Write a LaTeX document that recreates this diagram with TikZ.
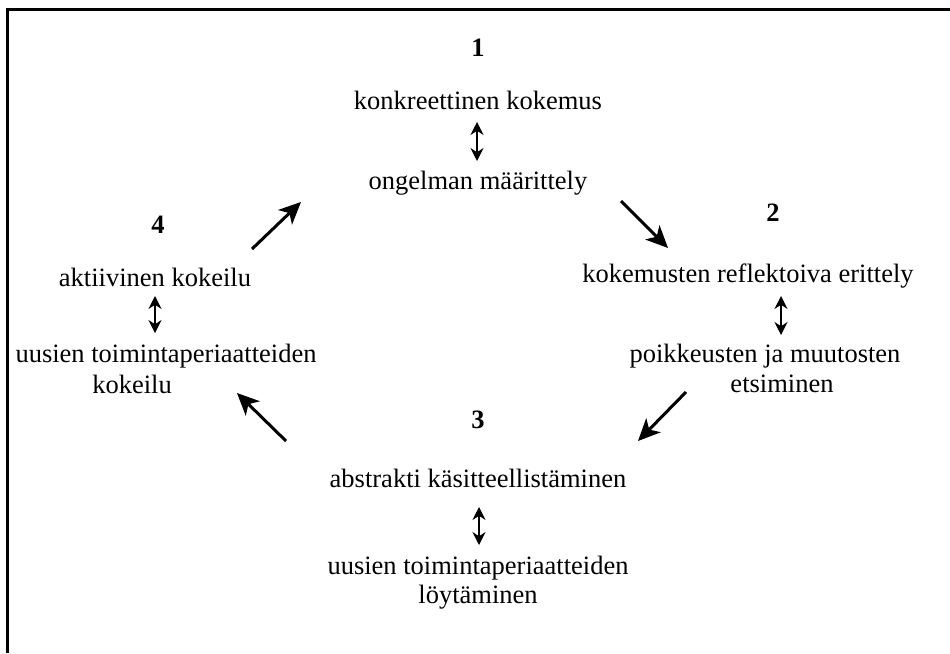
\documentclass[tikz,border=0pt]{standalone}
\usepackage{fontspec}
\setmainfont{Liberation Serif}
\usetikzlibrary{arrows.meta}
\begin{document}
\begin{tikzpicture}[x=1pt,y=-1pt,
  lbl/.style={font=\fontsize{26.5}{29}\selectfont, inner sep=0pt, align=center},
  num/.style={font=\fontsize{26.5}{29}\selectfont\bfseries, inner sep=0pt},
  bigarrow/.style={line width=3pt, -{Stealth[length=22pt,width=20pt,inset=6pt]}},
  dblarrow/.style={line width=1.2pt, {Stealth[length=13pt,width=13pt]}-{Stealth[length=13pt,width=13pt]}}]
\useasboundingbox (0,0) rectangle (950,653);
\draw[line width=3pt] (7,653) -- (7,9.5) -- (950,9.5);
% top group
\node[num] (n1) at (478,48) {1};
\node[lbl] (k1) at (478,100) {konkreettinen kokemus};
\node[lbl] (k2) at (478,183) {ongelman määrittely};
\coordinate (k1a) at (477,122);
\coordinate (k2a) at (477,161);
\draw[dblarrow] (k1a) -- (k2a);
% right group
\node[num] (n2) at (773,213) {2};
\node[lbl] (r1) at (748,276) {kokemusten reflektoiva erittely};
\node[lbl] (r2) at (765,356) {poikkeusten ja muutosten};
\node[lbl] (r3) at (782,384) {etsiminen};
\coordinate (r1a) at (781,296);
\coordinate (r2a) at (781,335);
\draw[dblarrow] (r1a) -- (r2a);
% bottom group
\node[num] (n3) at (478,420) {3};
\node[lbl] (s1) at (478,478) {abstrakti käsitteellistäminen};
\node[lbl] (s2) at (478,583) {uusien toimintaperiaatteiden\\löytäminen};
\coordinate (s1a) at (479,507);
\coordinate (s2a) at (479,545);
\draw[dblarrow] (s1a) -- (s2a);
% left group
\node[num] (n4) at (158,225) {4};
\node[lbl] (l1) at (155,277) {aktiivinen kokeilu};
\node[lbl] (l2) at (166,356) {uusien toimintaperiaatteiden};
\node[lbl] (l3) at (132,384) {kokeilu};
\coordinate (l1a) at (155,296);
\coordinate (l2a) at (155,333);
\draw[dblarrow] (l1a) -- (l2a);
% cycle arrows
\coordinate (a1s) at (252,249);
\coordinate (a1e) at (301,202);
\coordinate (a2s) at (621,201);
\coordinate (a2e) at (668,248);
\coordinate (a3s) at (686,392);
\coordinate (a3e) at (638,441);
\coordinate (a4s) at (286,441);
\coordinate (a4e) at (237,393);
\draw[bigarrow] (a1s) -- (a1e);
\draw[bigarrow] (a2s) -- (a2e);
\draw[bigarrow] (a3s) -- (a3e);
\draw[bigarrow] (a4s) -- (a4e);
\end{tikzpicture}
\end{document}
